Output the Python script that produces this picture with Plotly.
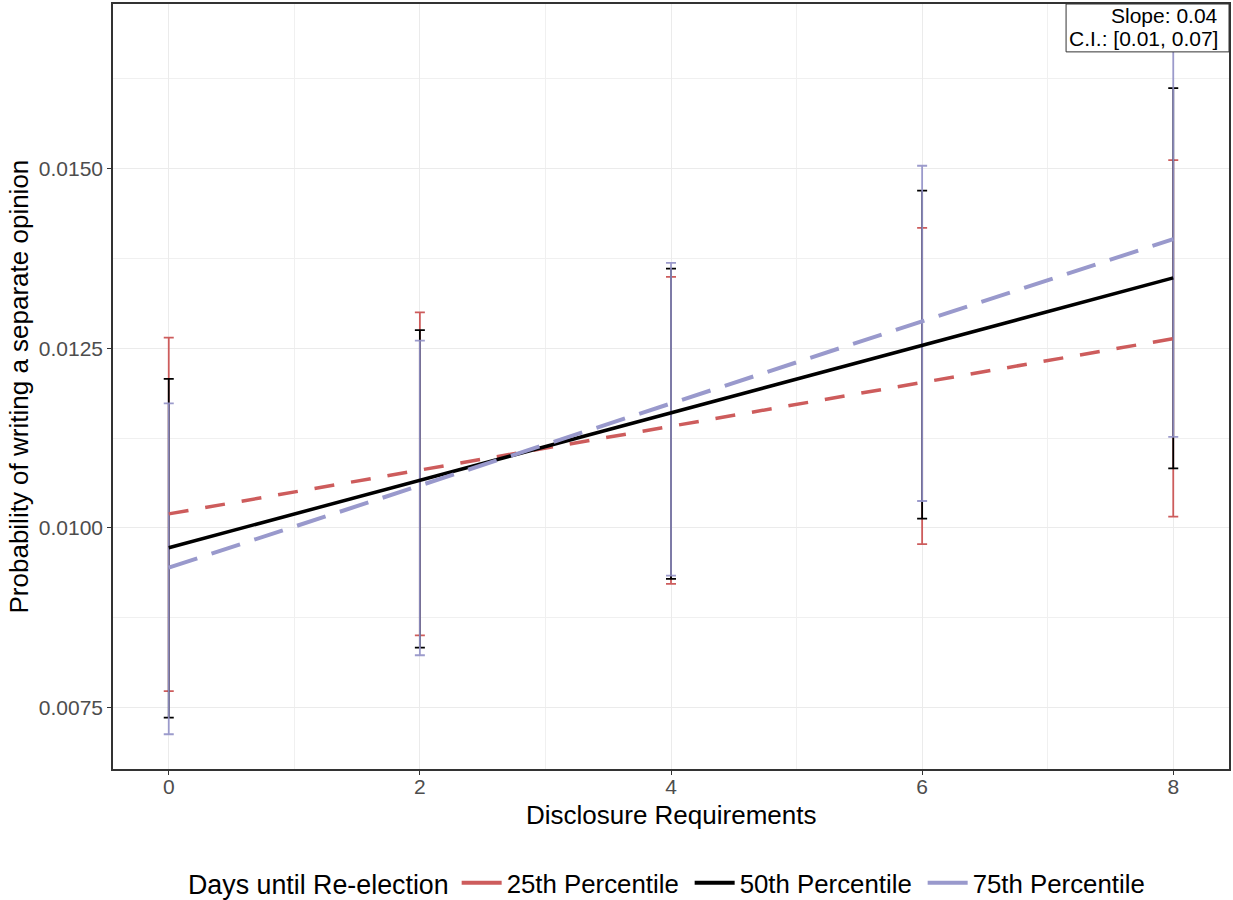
import plotly.graph_objects as go

# ---- data ----
x_vals = [0, 2, 4, 6, 8]
series = ["25th Percentile", "50th Percentile", "75th Percentile"]

lo_25 = [0.007726, 0.008503, 0.009219, 0.009774, 0.010155]
hi_25 = [0.012648, 0.012999, 0.013494, 0.014177, 0.015120]
lo_50 = [0.007357, 0.008332, 0.009289, 0.010129, 0.010828]
hi_50 = [0.012075, 0.012754, 0.013609, 0.014695, 0.016122]
lo_75 = [0.007126, 0.008226, 0.009335, 0.010374, 0.011267]
hi_75 = [0.011733, 0.012606, 0.013688, 0.015042, 0.016810]

fit_x = [0, 8]
fit_25 = [0.010194, 0.012634]
fit_50 = [0.009723, 0.013480]
fit_75 = [0.009445, 0.014020]

slope_text = ["Slope: 0.04", "C.I.: [0.01, 0.07]"]

colors = ["#CD5C5C", "#000000", "#9999CC"]
bar_colors = ["#CD5C5C", "#000000", "rgba(148,146,200,0.92)"]
dashes = ["20px,17px", "solid", "30px,15px"]
widths = [3.5, 3.5, 4]

los = [lo_25, lo_50, lo_75]
his = [hi_25, hi_50, hi_75]
fits = [fit_25, fit_50, fit_75]

FONT = "Liberation Sans, Arial, Helvetica, sans-serif"

fig = go.Figure()

# error bars
for name, lo, hi, col in zip(series, los, his, bar_colors):
    mid = [(a + b) / 2 for a, b in zip(lo, hi)]
    fig.add_trace(go.Scatter(
        x=x_vals, y=mid, mode="markers",
        marker=dict(opacity=0, size=2, color=col),
        error_y=dict(type="data", symmetric=False,
                     array=[h - m for h, m in zip(hi, mid)],
                     arrayminus=[m - l for m, l in zip(mid, lo)],
                     color=col, thickness=1.8, width=5),
        showlegend=False, hoverinfo="skip"))

# fitted lines
for name, fit, col, dsh, w in zip(series, fits, colors, dashes, widths):
    fig.add_trace(go.Scatter(
        x=fit_x, y=fit, mode="lines",
        line=dict(color=col, dash=dsh, width=w),
        showlegend=False, name=name))

# legend keys
for name, col in zip(series, colors):
    fig.add_trace(go.Scatter(
        x=[None], y=[None], mode="lines",
        line=dict(color=col, width=4), name=name, showlegend=True))

# slope label box (top-right of the panel)
fig.add_shape(type="rect", xref="paper", yref="paper",
              x0=0.854, x1=1.0, y0=0.9374, y1=1.0,
              line=dict(color="#333333", width=1), fillcolor="white",
              layer="above")

fig.update_layout(
    width=1233, height=900,
    paper_bgcolor="white", plot_bgcolor="white",
    margin=dict(l=113, r=4, t=2, b=131),
    font=dict(family=FONT, color="black"),
    showlegend=True,
    legend=dict(orientation="h", x=186 / 1233, xanchor="left",
                xref="container", yref="container",
                y=0.019, yanchor="middle",
                title=dict(text="Days until Re-election", font=dict(size=26.8)),
                font=dict(size=25.8), itemwidth=40, entrywidth=178),
    xaxis=dict(range=[-0.444, 8.444], tickvals=[0, 2, 4, 6, 8],
               showgrid=True, gridcolor="#EBEBEB", gridwidth=1.3,
               zeroline=False, showline=True, mirror=True,
               linecolor="#333333", linewidth=1.5,
               ticks="outside", ticklen=4, tickcolor="#333333",
               ticklabelstandoff=-6,
               tickfont=dict(size=21, color="#4D4D4D"),
               minor=dict(dtick=1, showgrid=True, gridcolor="#F0F0F0",
                          gridwidth=0.7, ticks="")),
    yaxis=dict(range=[0.006642, 0.017294],
               tickvals=[0.0075, 0.0100, 0.0125, 0.0150], tickformat=".4f",
               showgrid=True, gridcolor="#EBEBEB", gridwidth=1.3,
               zeroline=False, showline=True, mirror=True,
               linecolor="#333333", linewidth=1.5,
               ticks="outside", ticklen=4, tickcolor="#333333",
               tickfont=dict(size=21, color="#4D4D4D"),
               minor=dict(tickvals=[0.00875, 0.01125, 0.01375, 0.01625],
                          showgrid=True, gridcolor="#F0F0F0",
                          gridwidth=0.7, ticks="")),
    annotations=[
        dict(text="Disclosure Requirements", xref="paper", yref="paper",
             x=0.5, y=-0.060, xanchor="center", yanchor="middle",
             showarrow=False, font=dict(size=26, color="black")),
        dict(text="Probability of writing a separate opinion",
             xref="paper", yref="paper", x=0, xshift=-95, y=0.5,
             xanchor="center", yanchor="middle", textangle=-90,
             showarrow=False, font=dict(size=26, color="black")),
        dict(text=slope_text[0], xref="paper", yref="paper",
             x=1, xshift=-9, y=1 - 12 / 767, xanchor="right",
             yanchor="middle", showarrow=False,
             font=dict(size=21, color="black")),
        dict(text=slope_text[1], xref="paper", yref="paper",
             x=1, xshift=-9, y=1 - 35 / 767, xanchor="right",
             yanchor="middle", showarrow=False,
             font=dict(size=21, color="black")),
    ],
)

fig.write_html("out.html", config={"displayModeBar": False},
               post_script="document.body.style.margin='0px';")
